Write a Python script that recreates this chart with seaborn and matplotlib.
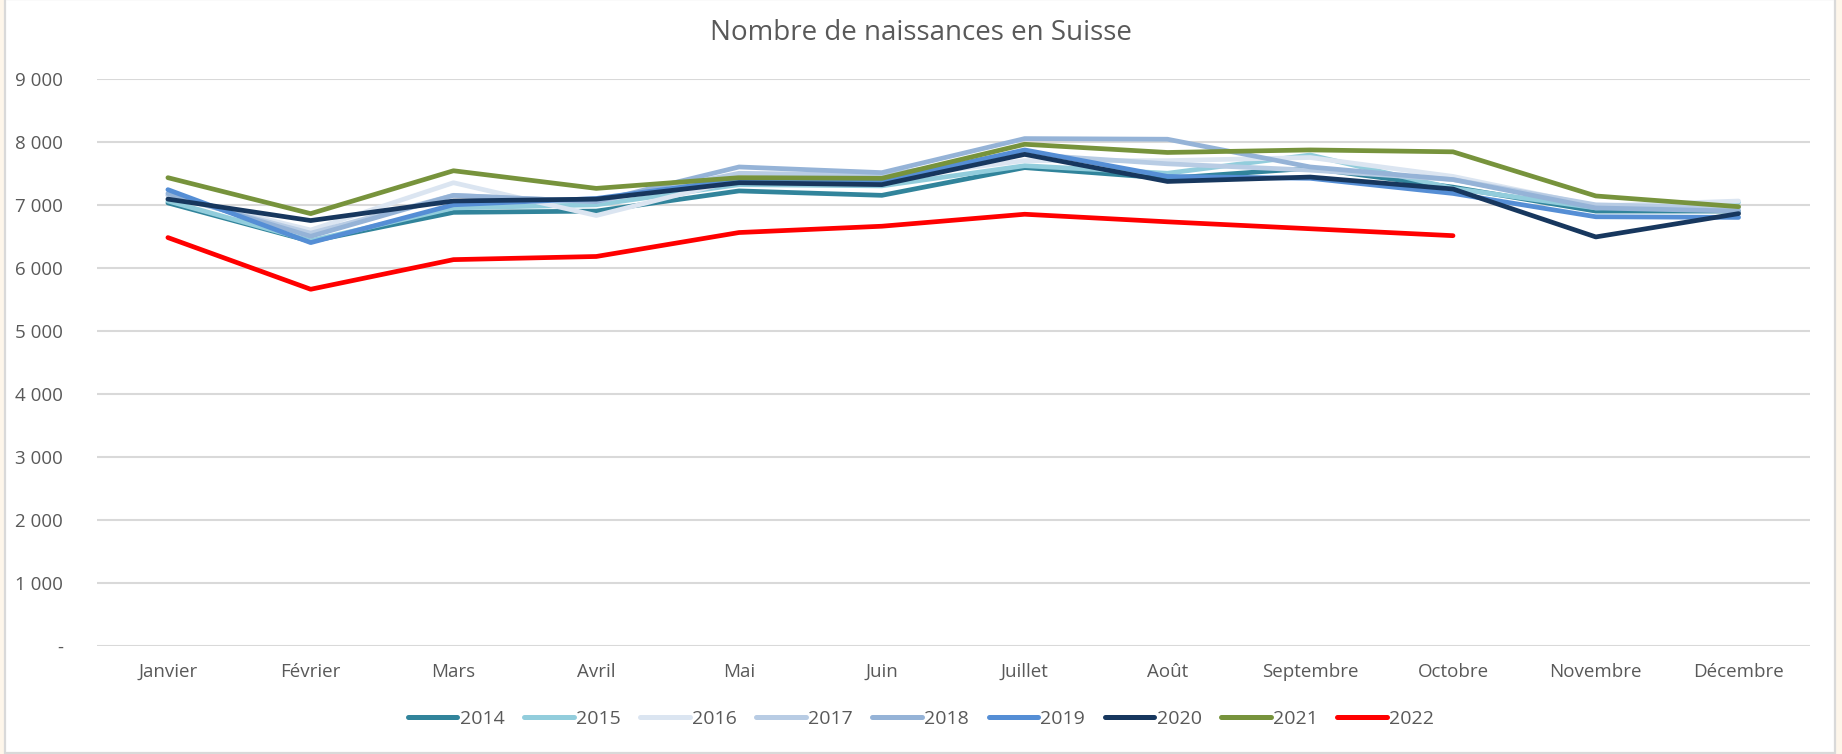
import numpy as np
import pandas as pd
import matplotlib
matplotlib.use("Agg")
import matplotlib.pyplot as plt
from matplotlib.patches import Rectangle
from matplotlib.lines import Line2D
import seaborn as sns

months = ["Janvier", "Février", "Mars", "Avril", "Mai", "Juin", "Juillet",
          "Août", "Septembre", "Octobre", "Novembre", "Décembre"]

y2014 = [7030, 6420, 6880, 6900, 7220, 7150, 7590, 7420, 7580, 7280, 6900, 6900]
y2015 = [7060, 6430, 6950, 7000, 7320, 7300, 7620, 7500, 7790, 7260, 6950, 7040]
y2016 = [7150, 6600, 7350, 6830, 7400, 7420, 7700, 7700, 7750, 7450, 6980, 7060]
y2017 = [7150, 6550, 7150, 7050, 7500, 7470, 7800, 7650, 7550, 7400, 7000, 6950]
y2018 = [7180, 6500, 7150, 7050, 7600, 7510, 8050, 8040, 7600, 7400, 6950, 6900]
y2019 = [7240, 6400, 7000, 7100, 7400, 7380, 7870, 7450, 7420, 7180, 6810, 6800]
y2020 = [7090, 6750, 7060, 7090, 7350, 7320, 7800, 7370, 7440, 7250, 6490, 6860]
y2021 = [7430, 6860, 7540, 7260, 7430, 7420, 7960, 7830, 7870, 7840, 7140, 6970]
y2022 = [6480, 5660, 6130, 6180, 6560, 6660, 6850, 6730, 6620, 6510, np.nan, np.nan]

years = ["2014", "2015", "2016", "2017", "2018", "2019", "2020", "2021", "2022"]
series = [y2014, y2015, y2016, y2017, y2018, y2019, y2020, y2021, y2022]
colors = ["#31849B", "#92CDDC", "#DBE5F1", "#B8CCE4", "#95B3D7", "#558ED5",
          "#17375E", "#77933C", "#FF0000"]

yticks = [0, 1000, 2000, 3000, 4000, 5000, 6000, 7000, 8000, 9000]
ytick_labels = ["-", "1 000", "2 000", "3 000", "4 000", "5 000", "6 000",
                "7 000", "8 000", "9 000"]

title = "Nombre de naissances en Suisse"

rows = []
for yr, vals in zip(years, series):
    for m, v in zip(months, vals):
        rows.append({"Mois": m, "Naissances": v, "Année": yr})
df = pd.DataFrame(rows).dropna()

sns.set_theme(style="white")
plt.rcParams["font.family"] = ["Open Sans", "DejaVu Sans"]

W, H = 1842, 754
fig = plt.figure(figsize=(W / 100, H / 100), dpi=100)
fig.patch.set_facecolor("#FEF6EA")
fig.patches.append(Rectangle((5 / W, 1 / H), 1830 / W, 1.0, transform=fig.transFigure,
                             facecolor="white", edgecolor="#D9D9D9", linewidth=1.6,
                             zorder=-10))

ax = fig.add_axes([96.5 / W, 1 - 646.1 / H, (1810 - 96.5) / W, (646.1 - 78.7) / H])
ax.set_facecolor("none")

palette = dict(zip(years, colors))
sns.lineplot(data=df, x="Mois", y="Naissances", hue="Année", hue_order=years,
             palette=palette, linewidth=3.4, sort=False, legend=False, ax=ax,
             solid_capstyle="round", solid_joinstyle="round")

ax.set_xlim(-0.5, len(months) - 0.5)
ax.set_ylim(0, 9000)
ax.set_yticks(yticks)
ax.set_yticklabels(ytick_labels)
ax.set_xticks(range(len(months)))
ax.set_xticklabels(months)
ax.set_xlabel("")
ax.set_ylabel("")
ax.grid(axis="y", color="#D9D9D9", linewidth=1.5)
ax.set_axisbelow(True)
for s in ax.spines.values():
    s.set_visible(False)
ax.tick_params(axis="x", length=0, pad=12, labelsize=13.5, labelcolor="#595959")
ax.tick_params(axis="y", length=0, pad=24, labelsize=13.5, labelcolor="#595959")

fig.text(0.5, 1 - 33 / H, title, ha="center", va="center", fontsize=20, color="#595959")

handles = [Line2D([0], [0], color=c, lw=3.6, solid_capstyle="round") for c in colors]
leg = fig.legend(handles, years, loc="center", bbox_to_anchor=(0.5, 1 - 719 / H), ncol=9,
                 frameon=False, handlelength=2.55, handletextpad=0.12, columnspacing=1.0,
                 prop={"family": ["Open Sans", "DejaVu Sans"], "size": 14})
for t in leg.get_texts():
    t.set_color("#595959")

fig.savefig("out.png", dpi=100, facecolor=fig.get_facecolor())
